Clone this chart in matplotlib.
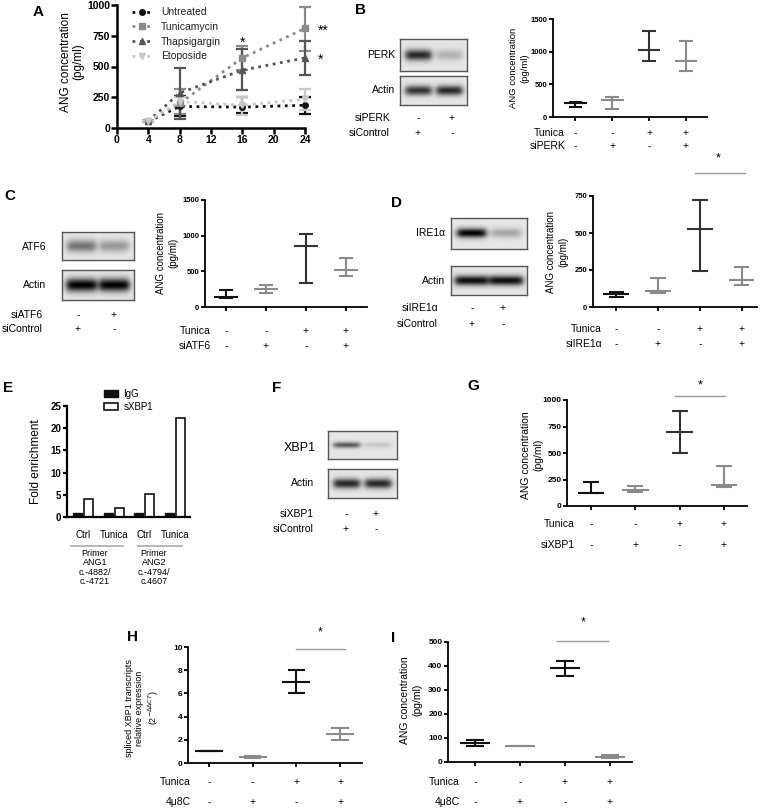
import numpy as np
import matplotlib.pyplot as plt
from matplotlib.lines import Line2D
from matplotlib.transforms import blended_transform_factory

plt.rcParams['font.family'] = ['Liberation Sans', 'DejaVu Sans']

W, H = 763, 808
fig = plt.figure(figsize=(W / 100, H / 100), dpi=100)

BLACK = '#111111'
DARK = '#333333'
GRAY = '#8a8a8a'
LIGHT = '#c8c8c8'

# ---- data ----
# A: time course
hours = [4, 8, 16, 24]
untr = [55, 175, 170, 185]
untr_lo = [55, 95, 120, 115]
untr_hi = [55, 260, 250, 255]
tuni = [55, 200, 570, 810]
tuni_lo = [55, 110, 470, 630]
tuni_hi = [55, 320, 670, 985]
thap = [55, 285, 470, 570]
thap_lo = [55, 70, 310, 430]
thap_hi = [55, 485, 640, 710]
etop = [55, 215, 185, 235]
etop_lo = [55, 180, 105, 150]
etop_hi = [55, 250, 250, 320]

# B: siPERK
b_mean = [220, 260, 1020, 860]
b_lo = [160, 130, 850, 710]
b_hi = [230, 310, 1320, 1170]
# C: siATF6
c_mean = [140, 255, 850, 520]
c_lo = [120, 190, 330, 440]
c_hi = [240, 310, 1020, 690]
# D: siIRE1a
d_mean = [90, 105, 530, 180]
d_lo = [70, 95, 240, 150]
d_hi = [100, 195, 720, 270]
# E: ChIP
e_groups = ['Ctrl', 'Tunica', 'Ctrl', 'Tunica']
e_igg = [1, 1, 1, 1]
e_sxbp1 = [4.0, 2.0, 5.2, 22.3]
# G: siXBP1
g_mean = [125, 150, 700, 200]
g_lo = [125, 135, 500, 175]
g_hi = [225, 185, 900, 375]
# H: spliced XBP1
h_mean = [1.0, 0.5, 7.0, 2.5]
h_lo = [1.0, 0.42, 6.0, 2.0]
h_hi = [1.0, 0.6, 8.0, 3.0]
# I: 4u8C ANG
i_mean = [78, 67, 390, 22]
i_lo = [68, 67, 360, 15]
i_hi = [90, 67, 420, 30]

tunica_row = ['-', '-', '+', '+']
si_row = ['-', '+', '-', '+']
ctrl_pair = ['+', '-']
si_pair = ['-', '+']


def ax_px(x0, y0, x1, y1):
    return fig.add_axes([x0 / W, 1 - y1 / H, (x1 - x0) / W, (y1 - y0) / H])


def ftext(x, y, s, **kw):
    fig.text(x / W, 1 - y / H, s, **kw)


def fline(x0, x1, y, color='#999999', lw=1.0):
    fig.add_artist(plt.Line2D([x0 / W, x1 / W], [1 - y / H, 1 - y / H], color=color, lw=lw))


def letter(x, y, s):
    ftext(x, y, s, fontsize=11, fontweight='bold', ha='center', va='center')


def style_axes(ax, tick_fs=5.5, lw=1.3):
    for sp in ['top', 'right']:
        ax.spines[sp].set_visible(False)
    for sp in ['left', 'bottom']:
        ax.spines[sp].set_linewidth(lw)
    ax.tick_params(direction='out', length=3, width=lw, labelsize=tick_fs, pad=1)
    for t in ax.get_yticklabels() + ax.get_xticklabels():
        t.set_fontweight('bold')


def dot_panel(rect, means, lo, hi, colors, ylim, yticks, xlim, mw, cw, tick_fs=5.5):
    ax = ax_px(*rect)
    xs = np.arange(1, len(means) + 1)
    for x, m, l, h, c in zip(xs, means, lo, hi, colors):
        ax.hlines(m, x - mw, x + mw, colors=c, lw=1.5)
        ax.vlines(x, l, h, colors=c, lw=1.5)
        ax.hlines([l, h], x - cw, x + cw, colors=c, lw=1.5)
    ax.set_xlim(xlim)
    ax.set_ylim(ylim)
    ax.set_yticks(yticks)
    ax.set_xticks(xs)
    ax.set_xticklabels([])
    style_axes(ax, tick_fs)
    return ax


def sign_rows(ax, names, rows, ys, label_x, fs=7.5):
    tr = blended_transform_factory(ax.transData, fig.transFigure)
    xs = np.arange(1, len(rows[0]) + 1)
    for name, row, y in zip(names, rows, ys):
        ftext(label_x, y, name, ha='right', va='center', fontsize=fs)
        for x, s in zip(xs, row):
            ax.text(x, 1 - y / H, s, transform=tr, ha='center', va='center', fontsize=fs)


def blot(rect, amps, thick=0.35, spread=0.19):
    ax = ax_px(*rect)
    hgt, wid = 40, 100
    yy = np.linspace(-1, 1, hgt)[:, None]
    xx = np.linspace(0, 1, wid)[None, :]
    img = np.full((hgt, wid), 0.9)
    for cx, a in zip([0.27, 0.73], amps):
        prof_x = 1 / (1 + np.exp((np.abs(xx - cx) - spread) / 0.025))
        prof_y = np.exp(-(yy / thick) ** 2)
        img = img - a * prof_x * prof_y
    ax.imshow(np.clip(img, 0, 1), cmap='gray', vmin=0, vmax=1, aspect='auto',
              interpolation='bilinear')
    ax.set_xticks([])
    ax.set_yticks([])
    for sp in ax.spines.values():
        sp.set_color('#555555')
        sp.set_linewidth(1.0)
    return ax


def ylab(x, y, s, fs=7, ls=1.25):
    ftext(x, y, s, rotation=90, ha='center', va='center', ma='center', fontsize=fs,
          linespacing=ls)


# ---- A ----
letter(38, 12, 'A')
axA = ax_px(117, 5, 305, 128)
series = [(untr, untr_lo, untr_hi, BLACK, 'o', 'Untreated'),
          (tuni, tuni_lo, tuni_hi, GRAY, 's', 'Tunicamycin'),
          (thap, thap_lo, thap_hi, '#555555', '^', 'Thapsigargin'),
          (etop, etop_lo, etop_hi, LIGHT, 'v', 'Etoposide')]
handles = []
for m, l, h, c, mk, lab in series:
    m = np.array(m)
    err = [m - np.array(l), np.array(h) - m]
    axA.errorbar(hours, m, yerr=err, color=c, ls=':', lw=2, marker=mk, ms=4,
                 capsize=4, elinewidth=1.6, capthick=1.6, clip_on=False)
    handles.append(Line2D([], [], color=c, ls=':', lw=2, marker=mk, ms=4, label=lab))
axA.set_xlim(0, 24)
axA.set_ylim(0, 1000)
axA.set_xticks([0, 4, 8, 12, 16, 20, 24])
axA.set_yticks([0, 250, 500, 750, 1000])
style_axes(axA, tick_fs=7.5, lw=1.8)
axA.tick_params(length=4)
leg = axA.legend(handles=handles, loc='upper left', bbox_to_anchor=(0.04, 1.04),
                 frameon=False, fontsize=7.5, handlelength=2.0, labelspacing=0.45,
                 borderpad=0.2)
for t in leg.get_texts():
    t.set_color('#222222')
axA.text(16, 690, '*', ha='center', va='center', fontsize=10)
axA.text(25.7, 790, '**', ha='left', va='center', fontsize=10, clip_on=False)
axA.text(25.7, 555, '*', ha='left', va='center', fontsize=10, clip_on=False)
ylab(72, 62, 'ANG concentration\n(pg/ml)', fs=8.5, ls=1.1)

# ---- B ----
letter(360, 10, 'B')
blot((400, 39, 467, 71), [0.75, 0.2])
blot((400, 76, 467, 105), [0.7, 0.75])
ftext(395, 55, 'PERK', ha='right', va='center', fontsize=7.5)
ftext(395, 90, 'Actin', ha='right', va='center', fontsize=7.5)
for name, row, y in zip(['siPERK', 'siControl'], [si_pair, ctrl_pair], [118, 133]):
    ftext(390, y, name, ha='right', va='center', fontsize=7.5)
    for x, s in zip([418, 452], row):
        ftext(x, y, s, ha='center', va='center', fontsize=7.5)
axB = dot_panel((553, 19, 707, 117), b_mean, b_lo, b_hi, [BLACK, GRAY, DARK, GRAY],
                (0, 1500), [0, 500, 1000, 1500], (0.4, 4.57), 0.31, 0.18)
sign_rows(axB, ['Tunica', 'siPERK'], [tunica_row, si_row], [133, 146], 565)
ylab(519, 68, 'ANG concentration\n(pg/ml)', fs=6.8)

# ---- C ----
letter(10, 196, 'C')
blot((62, 232, 134, 260), [0.45, 0.3], thick=0.45, spread=0.2)
blot((62, 270, 134, 300), [0.9, 0.9], thick=0.45, spread=0.21)
ftext(46, 247, 'ATF6', ha='right', va='center', fontsize=7.5)
ftext(46, 285, 'Actin', ha='right', va='center', fontsize=7.5)
for name, row, y in zip(['siATF6', 'siControl'], [si_pair, ctrl_pair], [315, 329]):
    ftext(43, y, name, ha='right', va='center', fontsize=7.5)
    for x, s in zip([78, 114], row):
        ftext(x, y, s, ha='center', va='center', fontsize=7.5)
axC = dot_panel((205, 200, 367, 307), c_mean, c_lo, c_hi, [BLACK, GRAY, DARK, GRAY],
                (0, 1500), [0, 500, 1000, 1500], (0.475, 4.525), 0.3, 0.18)
sign_rows(axC, ['Tunica', 'siATF6'], [tunica_row, si_row], [331, 346], 211)
ylab(167, 253, 'ANG concentration\n(pg/ml)', fs=7)

# ---- D ----
letter(397, 203, 'D')
blot((451, 218, 527, 249), [0.9, 0.25], thick=0.3)
blot((451, 266, 527, 295), [0.85, 0.85], thick=0.35, spread=0.22)
ftext(445, 233, 'IRE1α', ha='right', va='center', fontsize=7.5)
ftext(445, 281, 'Actin', ha='right', va='center', fontsize=7.5)
for name, row, y in zip(['siIRE1α', 'siControl'], [si_pair, ctrl_pair], [308, 324]):
    ftext(438, y, name, ha='right', va='center', fontsize=7.5)
    for x, s in zip([472, 503], row):
        ftext(x, y, s, ha='center', va='center', fontsize=7.5)
axD = dot_panel((593, 196, 757, 307), d_mean, d_lo, d_hi, [BLACK, GRAY, DARK, GRAY],
                (0, 750), [0, 250, 500, 750], (0.45, 4.36), 0.3, 0.18)
sign_rows(axD, ['Tunica', 'siIRE1α'], [tunica_row, si_row], [329, 344], 602)
ylab(557, 252, 'ANG concentration\n(pg/ml)', fs=7)
fline(695, 745, 173)
ftext(718, 158, '*', ha='center', va='center', fontsize=9)

# ---- E ----
letter(8, 388, 'E')
axE = ax_px(67, 406, 190, 517)
gx = np.arange(len(e_groups))
axE.bar(gx - 0.18, e_igg, 0.29, color=BLACK, edgecolor=BLACK, lw=1, label='IgG')
axE.bar(gx + 0.18, e_sxbp1, 0.29, color='white', edgecolor=BLACK, lw=1.2, label='sXBP1')
axE.set_xlim(-0.52, 3.49)
axE.set_ylim(0, 25)
axE.set_yticks([0, 5, 10, 15, 20, 25])
axE.set_xticks([])
style_axes(axE, tick_fs=7, lw=1.6)
axE.legend(loc='upper left', bbox_to_anchor=(98 / W, 1 - 383 / H), bbox_transform=fig.transFigure,
           frameon=False, fontsize=7, handlelength=1.5, handleheight=0.8, labelspacing=0.3,
           borderpad=0.1, handletextpad=0.5)
trE = blended_transform_factory(axE.transData, fig.transFigure)
for x, s in zip(gx, e_groups):
    axE.text(x, 1 - 535 / H, s, transform=trE, ha='center', va='center', fontsize=7)
fline(71, 123, 546, color='#aaaaaa', lw=1.2)
fline(138, 182, 546, color='#aaaaaa', lw=1.2)
ftext(95, 549, 'Primer\nANG1\nc.-4882/\nc.-4721', ha='center', va='top', fontsize=6.5,
      linespacing=1.05)
ftext(154, 549, 'Primer\nANG2\nc.-4794/\nc.4607', ha='center', va='top', fontsize=6.5,
      linespacing=1.05)
ylab(36, 462, 'Fold enrichment', fs=8.5)

# ---- F ----
letter(277, 388, 'F')
blot((328, 431, 397, 459), [0.55, 0.12], thick=0.22)
blot((328, 469, 397, 498), [0.75, 0.75], thick=0.35)
ftext(316, 448, 'XBP1', ha='right', va='center', fontsize=9)
ftext(314, 483, 'Actin', ha='right', va='center', fontsize=7.5)
for name, row, y in zip(['siXBP1', 'siControl'], [si_pair, ctrl_pair], [514, 529]):
    ftext(314, y, name, ha='right', va='center', fontsize=7.5)
    for x, s in zip([346, 376], row):
        ftext(x, y, s, ha='center', va='center', fontsize=7.5)

# ---- G ----
letter(473, 386, 'G')
axG = dot_panel((567, 400, 747, 506), g_mean, g_lo, g_hi, [BLACK, GRAY, DARK, GRAY],
                (0, 1000), [0, 250, 500, 750, 1000], (0.46, 4.52), 0.3, 0.18, tick_fs=6)
sign_rows(axG, ['Tunica', 'siXBP1'], [tunica_row, si_row], [524, 545], 575)
ylab(532, 455, 'ANG concentration\n(pg/ml)', fs=7.5)
fline(675, 725, 396)
ftext(700, 385, '*', ha='center', va='center', fontsize=9)

# ---- H ----
letter(132, 637, 'H')
axH = dot_panel((188, 647, 362, 763), h_mean, h_lo, h_hi, [BLACK, GRAY, BLACK, GRAY],
                (0, 10), [0, 2, 4, 6, 8, 10], (0.52, 4.5), 0.32, 0.2, tick_fs=6)
sign_rows(axH, ['Tunica', '4μ8C'], [tunica_row, si_row], [782, 802], 191)
ylab(143, 708, 'spliced XBP1 transcripts\nrelative expression\n(2$^{-ΔΔCT}$)', fs=6.5)
fline(296, 345, 649)
ftext(320, 632, '*', ha='center', va='center', fontsize=9)

# ---- I ----
letter(393, 638, 'I')
axI = dot_panel((448, 642, 632, 762), i_mean, i_lo, i_hi, [BLACK, GRAY, BLACK, GRAY],
                (0, 500), [0, 100, 200, 300, 400, 500], (0.4, 4.49), 0.33, 0.2, tick_fs=6)
sign_rows(axI, ['Tunica', '4μ8C'], [tunica_row, si_row], [782, 802], 460)
ylab(411, 700, 'ANG concentration\n(pg/ml)', fs=7.5)
fline(557, 608, 641)
ftext(583, 622, '*', ha='center', va='center', fontsize=9)

fig.savefig('out.png', dpi=100)
